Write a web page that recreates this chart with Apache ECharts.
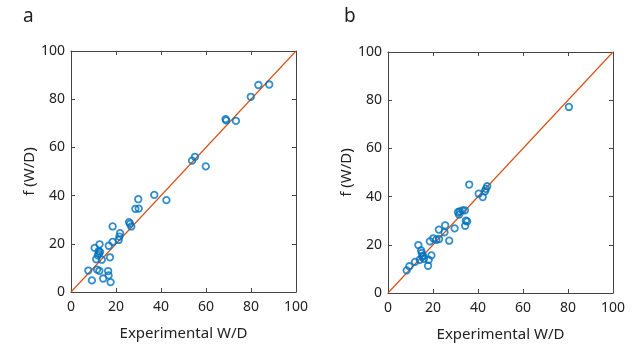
<!DOCTYPE html>
<html><head><meta charset="utf-8">
<script src="https://cdn.jsdelivr.net/npm/echarts@6/dist/echarts.min.js"></script>
<style>html,body{margin:0;padding:0;background:#fff}#c{width:643px;height:352px}</style>
</head><body><div id="c"></div>
<script>
const panelLabels = ['a', 'b'];
const xTitle = 'Experimental W/D';
const yTitle = 'f (W/D)';
const axisTicks = [0, 20, 40, 60, 80, 100];
const idealLine = [[0, 0], [100, 100]];
const pointsA = [
  [88.1,86.1],[83.3,85.9],[79.9,81.0],[68.7,71.7],[69.0,71.2],[73.3,71.0],
  [55.1,56.1],[53.8,54.5],[59.9,52.1],[37.0,40.3],[42.4,38.1],[29.9,38.5],
  [28.6,34.5],[30.1,34.6],[25.8,29.0],[26.2,28.3],[26.8,27.2],[18.5,27.2],
  [21.8,24.4],[21.5,23.0],[21.2,21.6],[18.5,20.8],[16.8,19.2],[10.5,18.3],
  [12.7,19.8],[12.9,16.6],[11.9,15.2],[12.3,17.0],[11.2,13.6],[13.7,13.4],
  [17.3,14.4],[7.7,8.9],[11.6,9.3],[12.6,8.8],[16.5,8.7],[16.7,6.9],
  [9.3,4.8],[14.3,5.6],[17.6,4.1],[12.4,15.8]
];
const pointsB = [
  [80.4,77.2],[36.1,45.0],[44.1,44.3],[43.5,43.2],[43.1,42.2],[40.3,41.2],
  [42.1,39.8],[31.1,33.5],[31.9,33.9],[33.1,34.3],[34.2,34.3],[31.6,32.5],
  [35.2,29.7],[34.6,30.0],[34.3,27.9],[29.6,26.8],[25.4,28.1],[22.6,26.3],
  [25.1,25.2],[27.2,21.7],[22.7,22.4],[20.1,22.7],[18.6,21.4],[21.5,22.1],
  [13.5,19.9],[14.7,17.7],[15.0,16.6],[15.6,15.5],[16.0,14.2],[14.1,13.8],
  [19.3,15.6],[18.1,13.8],[17.8,11.3],[12.0,12.9],[9.5,11.1],[8.3,9.4],
  [15.2,15.0]
];

const FONT = 'Noto Sans';
const TXT = '#222';
const LINEC = '#444';
const grids = [
  {left: 71, top: 51, width: 225, height: 241},
  {left: 388, top: 52, width: 225, height: 241}
];
const xAxes = [], yAxes = [];
grids.forEach((g, i) => {
  const base = {min: 0, max: 100, interval: 20, gridIndex: i, splitLine: {show: false},
    axisLine: {show: true, onZero: false, lineStyle: {color: LINEC, width: 1}},
    axisTick: {show: true, inside: true, length: 4, lineStyle: {color: LINEC}}};
  xAxes.push(Object.assign({}, base, {type: 'value', position: 'bottom', name: xTitle,
    nameLocation: 'middle', nameGap: 34, nameTextStyle: {fontFamily: FONT, fontSize: 15, color: TXT},
    axisLabel: {fontFamily: FONT, fontSize: 14, color: TXT, margin: 8,
      formatter: v => axisTicks.includes(v) ? String(v) : ''}}));
  xAxes.push(Object.assign({}, base, {type: 'value', position: 'top', axisLabel: {show: false}}));
  yAxes.push(Object.assign({}, base, {type: 'value', position: 'left', name: yTitle,
    nameLocation: 'middle', nameGap: 27, nameRotate: 90, nameTextStyle: {fontFamily: FONT, fontSize: 15, color: TXT},
    axisLabel: {fontFamily: FONT, fontSize: 14, color: TXT, margin: 6,
      formatter: v => axisTicks.includes(v) ? String(v) : ''}}));
  yAxes.push(Object.assign({}, base, {type: 'value', position: 'right', axisLabel: {show: false}}));
});

const series = [];
[pointsA, pointsB].forEach((pts, i) => {
  series.push({type: 'line', xAxisIndex: i * 2, yAxisIndex: i * 2, data: idealLine,
    symbol: 'none', silent: true, lineStyle: {color: '#D95319', width: 1.2}, z: 1});
  series.push({type: 'scatter', xAxisIndex: i * 2, yAxisIndex: i * 2, data: pts,
    symbol: 'circle', symbolSize: 6.5,
    itemStyle: {color: 'rgba(255,255,255,0)', borderColor: '#0072BD', borderWidth: 1.8}, z: 3});
});

const chart = echarts.init(document.getElementById('c'), null, {renderer: 'canvas'});
chart.setOption({
  animation: false,
  backgroundColor: '#fff',
  title: [
    {text: panelLabels[0], left: 18, top: 2, textStyle: {fontFamily: FONT, fontSize: 19, fontWeight: 'normal', color: '#222'}},
    {text: panelLabels[1], left: 339, top: 2, textStyle: {fontFamily: FONT, fontSize: 19, fontWeight: 'normal', color: '#222'}}
  ],
  grid: grids,
  xAxis: xAxes,
  yAxis: yAxes,
  series: series
});
</script></body></html>
